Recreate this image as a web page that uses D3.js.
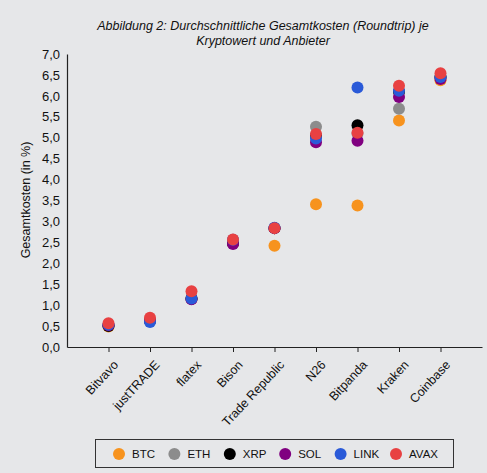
<!DOCTYPE html>
<html>
<head>
<meta charset="utf-8">
<script src="https://cdn.jsdelivr.net/npm/d3@7"></script>
<style>
  body { margin: 0; background: #e6e7e9; }
  svg { display: block; font-family: "Liberation Sans", Arial, sans-serif; }
</style>
</head>
<body>
<div id="chart"></div>
<script>
// Anbieter (x-Achse)
const providers = ["Bitvavo", "justTRADE", "flatex", "Bison", "Trade Republic", "N26", "Bitpanda", "Kraken", "Coinbase"];
const coins = ["BTC", "ETH", "XRP", "SOL", "LINK", "AVAX"];
const colors = ["#f7931e", "#8c8c8c", "#000000", "#800080", "#2a5ad8", "#e84142"];
const yTicks = [0, 0.5, 1, 1.5, 2, 2.5, 3, 3.5, 4, 4.5, 5, 5.5, 6, 6.5, 7];

// Gesamtkosten je Kryptowert, Reihenfolge wie providers
const btc  = [0.49, 0.62, 1.15, 2.48, 2.42, 3.41, 3.38, 5.41, 6.37];
const eth  = [0.52, 0.63, 1.16, 2.50, 2.84, 5.26, 5.10, 5.69, 6.45];
const xrp  = [0.50, 0.62, 1.15, 2.48, 2.84, 5.05, 5.30, 6.10, 6.45];
const sol  = [0.52, 0.63, 1.14, 2.46, 2.84, 4.89, 4.93, 5.97, 6.40];
const link = [0.53, 0.60, 1.16, 2.56, 2.85, 4.98, 6.20, 6.12, 6.45];
const avax = [0.57, 0.70, 1.33, 2.57, 2.84, 5.09, 5.12, 6.24, 6.54];
const series = [btc, eth, xrp, sol, link, avax];

const width = 487, height = 473;
const svg = d3.select("#chart").append("svg")
  .attr("width", width).attr("height", height);

svg.append("rect").attr("width", width).attr("height", height).attr("fill", "#e6e7e9");

const x = d3.scalePoint().domain(providers).range([67, 482]).padding(1);
const y = d3.scaleLinear().domain([0, 7]).range([347, 54]);

// title
const title = svg.append("text")
  .attr("text-anchor", "middle")
  .attr("font-size", 12.5).attr("font-style", "italic").attr("fill", "#111");
title.append("tspan").attr("x", 263).attr("y", 30).text("Abbildung 2: Durchschnittliche Gesamtkosten (Roundtrip) je");
title.append("tspan").attr("x", 263).attr("y", 45).text("Kryptowert und Anbieter");

// y axis
const yAxis = svg.append("g")
  .attr("transform", "translate(67,0)")
  .call(d3.axisLeft(y).tickValues(yTicks).tickSize(0).tickPadding(7)
    .tickFormat(d => d3.format(".1f")(d).replace(".", ",")));
yAxis.select(".domain").attr("stroke", "#222").attr("stroke-width", 1.2);
yAxis.selectAll("text").attr("font-size", 13).attr("fill", "#111")
  .attr("font-family", "Liberation Sans, Arial, sans-serif");

svg.append("text")
  .attr("transform", "translate(30,200) rotate(-90)")
  .attr("text-anchor", "middle").attr("font-size", 12.5).attr("fill", "#111")
  .text("Gesamtkosten (in %)");

// x axis
const xAxis = svg.append("g")
  .attr("transform", "translate(0,347)")
  .call(d3.axisBottom(x).tickSize(5).tickSizeOuter(0));
xAxis.select(".domain").attr("stroke", "#222").attr("stroke-width", 1.2);
xAxis.selectAll("line").attr("stroke", "#222");
xAxis.selectAll("text")
  .attr("font-size", 12.5).attr("fill", "#111")
  .attr("font-family", "Liberation Sans, Arial, sans-serif")
  .attr("text-anchor", "end")
  .attr("dy", "0.35em")
  .attr("transform", "translate(1,10) rotate(-47)");

// points
series.forEach((vals, i) => {
  svg.append("g").selectAll("circle")
    .data(vals)
    .enter()
    .append("circle")
    .attr("cx", (d, j) => x(providers[j]))
    .attr("cy", d => y(d))
    .attr("r", 6)
    .attr("fill", colors[i]);
});

// legend
svg.append("rect")
  .attr("x", 95.5).attr("y", 439.5).attr("width", 358).attr("height", 28)
  .attr("fill", "none").attr("stroke", "#333").attr("stroke-width", 1);
const lx = d3.scalePoint().domain(coins).range([119, 396]);
const items = svg.append("g").selectAll("g")
  .data(coins)
  .enter()
  .append("g")
  .attr("transform", d => `translate(${lx(d)},454)`);
items.append("circle").attr("r", 6).attr("fill", (d, i) => colors[i]);
items.append("text")
  .attr("x", 13).attr("dy", "0.35em")
  .attr("font-size", 11.5).attr("fill", "#111")
  .text(d => d);
</script>
</body>
</html>
